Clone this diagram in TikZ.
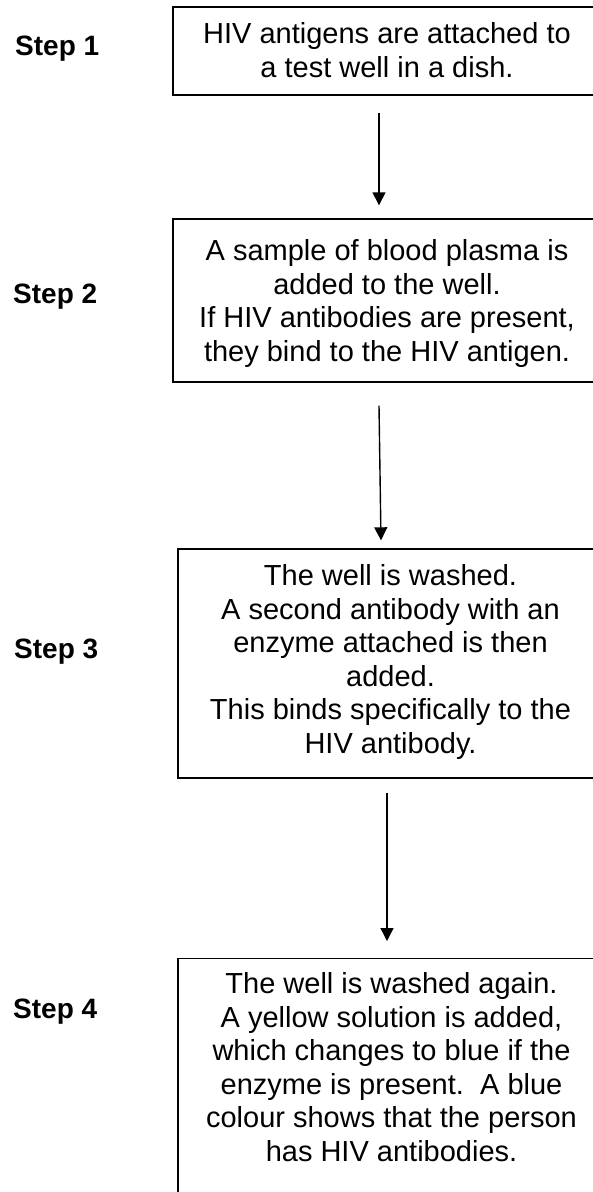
\documentclass[tikz,border=0pt]{standalone}
\usepackage{fontspec}
\setmainfont{Liberation Sans}
\usetikzlibrary{arrows.meta}
\begin{document}
\begin{tikzpicture}[x=1pt,y=1pt,
  box/.style={draw, line width=1.4pt, inner sep=0pt},
  txt/.style={align=center, anchor=north, inner sep=0pt,
    font=\fontsize{29}{33.6}\selectfont, execute at begin node=\strut},
  steplab/.style={anchor=base west, inner sep=0pt, font=\fontsize{28}{33}\selectfont\bfseries},
  arr/.style={line width=1.4pt, -{Triangle[length=13pt,width=13pt]}}]
\useasboundingbox (0,0) rectangle (593,-1192);
\clip (0,0) rectangle (593,-1192);
% boxes
\node[box, minimum width=428pt, minimum height=88pt] (s1) at (387,-51) {};
\node[box, minimum width=428pt, minimum height=163pt] (s2) at (387,-300.5) {};
\node[box, minimum width=425pt, minimum height=229pt] (s3) at (390.5,-663.5) {};
\node[box, minimum width=427pt, minimum height=260pt, anchor=north] (s4) at (391.5,-958) {};
% texts
\node[txt] (t1) at (387,-22.3) {HIV antigens are attached to\\a test well in a dish.};
\node[txt] (t2) at (387,-239.3) {A sample of blood plasma is\\added to the well.\\If HIV antibodies are present,\\they bind to the HIV antigen.};
\node[txt] (t3) at (390.5,-564.3) {The well is washed.\\A second antibody with an\\enzyme attached is then\\added.\\This binds specifically to the\\HIV antibody.};
\node[txt] (t4) at (391.5,-972.3) {The well is washed again.\\A yellow solution is added,\\which changes to blue if the\\enzyme is present.\ \ A blue\\colour shows that the person\\has HIV antibodies.};
% step labels
\node[steplab] (l1) at (15,-55) {Step 1};
\node[steplab] (l2) at (13,-303) {Step 2};
\node[steplab] (l3) at (14,-658) {Step 3};
\node[steplab] (l4) at (13,-1018) {Step 4};
% arrows
\draw[arr] ([xshift=-8pt,yshift=-17pt]s1.south) -- ([xshift=-8pt,yshift=13pt]s2.north);
\draw[arr] ([xshift=-8pt,yshift=-23pt]s2.south) -- ([xshift=-9.5pt,yshift=8pt]s3.north);
\draw[arr] ([xshift=-3.5pt,yshift=-14pt]s3.south) -- ([xshift=-4.5pt,yshift=17pt]s4.north);
\end{tikzpicture}
\end{document}
